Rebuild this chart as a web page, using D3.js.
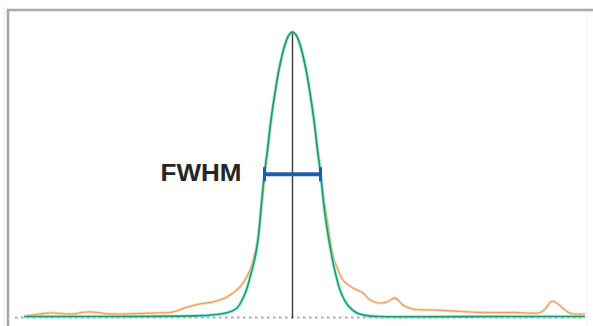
<!DOCTYPE html>
<html>
<head>
<meta charset="utf-8">
<script src="https://cdn.jsdelivr.net/npm/d3@7"></script>
<style>
  html, body { margin: 0; padding: 0; background: #fff; }
  svg { display: block; }
</style>
</head>
<body>
<svg id="chart" width="593" height="326"></svg>
<script>
// fitted profile (green) : [x, relative intensity]
const fitX = [-26.85, -19.25, -9.25, -7.55, -6.55, -5.55, -4.75, -4.15, -3.75, -3.45, -3.1, -2.8, -2.5, -2.15, -1.75, -1.3, -0.7, -0.35, 0,
              0.35, 0.7, 1.3, 1.75, 2.15, 2.5, 2.8, 3.1, 3.45, 3.85, 4.25, 4.75, 5.25, 5.75, 6.45, 7.25, 8.75, 20.75, 29.25];
const fitY = [0, 0, 0.003, 0.007, 0.013, 0.03, 0.08, 0.15, 0.206, 0.269, 0.4, 0.504, 0.585, 0.69, 0.786, 0.877, 0.961, 0.99, 1,
              0.99, 0.961, 0.877, 0.786, 0.69, 0.585, 0.504, 0.4, 0.31, 0.226, 0.158, 0.093, 0.054, 0.031, 0.012, 0.004, 0, 0, 0];

// measured profile (orange)
const measX = [-26.55, -25.25, -24.25, -23.25, -22.25, -20.25, -18.25, -14.25, -11.95, -10.55, -9.25, -7.95, -6.55, -5.25, -4.25, -3.75, -3.45, -3.15, -2.85,
               -2.5, -2.15, -1.75, -1.3, -0.7, 0, 0.7, 1.3, 1.75, 2.15, 2.5, 2.85, 3.15, 3.5, 3.85, 4.15, 4.45, 5.05, 6.05, 7.05, 7.75, 8.75, 9.45,
               10.25, 11.05, 12.05, 14.05, 16.75, 19.05, 22.05, 24.75, 25.35, 25.95, 26.55, 27.15, 27.75, 29.25];
const measY = [0.003, 0.009, 0.013, 0.011, 0.009, 0.016, 0.009, 0.012, 0.016, 0.033, 0.044, 0.051, 0.069, 0.104, 0.163, 0.223, 0.276, 0.357, 0.47,
               0.585, 0.69, 0.786, 0.877, 0.961, 1, 0.961, 0.877, 0.786, 0.69, 0.585, 0.5, 0.409, 0.332, 0.251, 0.199, 0.174, 0.128, 0.1, 0.083, 0.058, 0.047, 0.051,
               0.065, 0.04, 0.026, 0.023, 0.018, 0.014, 0.014, 0.014, 0.03, 0.054, 0.044, 0.026, 0.012, 0.009];

// full width at half maximum
const fwhm = [-2.8, 2.8];
const fwhmLabel = "FWHM";

const svg = d3.select("#chart");

const x = d3.scaleLinear().domain([-27.75, 29.25]).range([15, 585]);
const y = d3.scaleLinear().domain([0, 1]).range([316.5, 32]);

// frame
svg.append("line").attr("x1", 4).attr("x2", 4).attr("y1", 6).attr("y2", 326)
   .attr("stroke", "#eee").attr("stroke-width", 1);
svg.append("path")
   .attr("d", "M8,326 L8,10 L593,10")
   .attr("fill", "none").attr("stroke", "#a9a9a9").attr("stroke-width", 2.6);
svg.append("line").attr("x1", 587).attr("x2", 587).attr("y1", 12).attr("y2", 326)
   .attr("stroke", "#f0f0f0").attr("stroke-width", 1);

// dotted baseline
svg.append("line")
   .attr("x1", x(-27.75)).attr("x2", x(29.25))
   .attr("y1", y(0) + 1).attr("y2", y(0) + 1)
   .attr("stroke", "#aaaaaa").attr("stroke-width", 2)
   .attr("stroke-dasharray", "2.5,3.5");

const line = d3.line()
  .x(d => x(d[0]))
  .y(d => y(d[1]))
  .curve(d3.curveCatmullRom.alpha(0.5));

const meas = d3.zip(measX, measY);
const fit = d3.zip(fitX, fitY);

svg.append("path").datum(meas)
   .attr("d", line)
   .attr("fill", "none").attr("stroke", "#f6d29a").attr("stroke-width", 3).attr("opacity", 0.6);
svg.append("path").datum(meas)
   .attr("d", line)
   .attr("fill", "none").attr("stroke", "#eda064").attr("stroke-width", 1.3);

// centre line
svg.append("line")
   .attr("x1", x(0)).attr("x2", x(0))
   .attr("y1", y(1)).attr("y2", y(0) + 2)
   .attr("stroke", "#3a3a3a").attr("stroke-width", 1.4);

svg.append("path").datum(fit)
   .attr("d", line)
   .attr("fill", "none").attr("stroke", "#5fe8d8").attr("stroke-width", 3.4).attr("opacity", 0.55);
svg.append("path").datum(fit)
   .attr("d", line)
   .attr("fill", "none").attr("stroke", "#1f9a6c").attr("stroke-width", 1.6);

// FWHM marker
const yHalf = y(0.5);
const g = svg.append("g").attr("stroke", "#1f5cab");
g.append("line")
 .attr("x1", x(fwhm[0])).attr("x2", x(fwhm[1]))
 .attr("y1", yHalf).attr("y2", yHalf)
 .attr("stroke-width", 4);
g.selectAll("line.cap").data(fwhm).join("line")
 .attr("class", "cap")
 .attr("x1", d => x(d)).attr("x2", d => x(d))
 .attr("y1", yHalf - 7).attr("y2", yHalf + 7)
 .attr("stroke-width", 3);

svg.append("text")
   .attr("x", x(fwhm[0]) - 23)
   .attr("y", yHalf + 7)
   .attr("text-anchor", "end")
   .attr("font-family", "Liberation Sans, Arial, sans-serif")
   .attr("font-weight", "bold")
   .attr("font-size", 23)
   .attr("textLength", 81)
   .attr("lengthAdjust", "spacingAndGlyphs")
   .attr("fill", "#262626")
   .text(fwhmLabel);
</script>
</body>
</html>
